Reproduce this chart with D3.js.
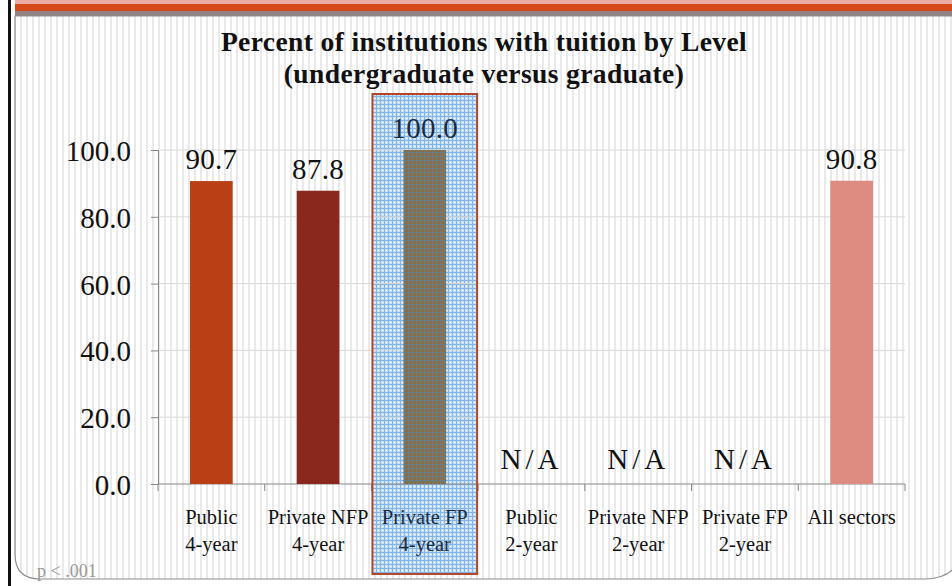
<!DOCTYPE html>
<html lang="en">
<head>
    <meta charset="UTF-8">
    <title>Percent of institutions with tuition by Level</title>
    <script src="https://d3js.org/d3.v7.min.js"></script>
    <style>
        body {margin: 0; background: #fff}
        text {font-family: 'Liberation Serif', 'DejaVu Serif', serif}
    </style>
</head>
<body>
<script>
    const width  = 952;
    const height = 586;

    // chart data
    const categories = [
        ["Public", "4-year"], ["Private NFP", "4-year"], ["Private FP", "4-year"],
        ["Public", "2-year"], ["Private NFP", "2-year"], ["Private FP", "2-year"],
        ["All sectors", ""]
    ];
    const values     = [90.7, 87.8, 100.0, null, null, null, 90.8];
    const barColors  = ["#bb3f14", "#8a281d", "#8c7043", "#999", "#999", "#999", "#de8b82"];
    const yTicks     = [0, 20, 40, 60, 80, 100];
    const highlight  = 2;

    const x = d3.scaleBand()
            .domain(d3.range(categories.length))
            .range([158, 905]);

    const y = d3.scaleLinear()
            .domain([0, 100])
            .range([484, 150]);

    const svg = d3.select("body")
            .append("svg")
            .attr("width", width)
            .attr("height", height);

    const defs = svg.append("defs");

    // striped slide background
    const stripes = defs.append("pattern")
            .attr("id", "stripes")
            .attr("patternUnits", "userSpaceOnUse")
            .attr("width", 6).attr("height", 6);
    stripes.append("rect").attr("width", 6).attr("height", 6).attr("fill", "#fff");
    stripes.append("rect").attr("x", 2).attr("width", 2).attr("height", 6).attr("fill", "#e9e9e9");

    // blue checked highlight (background)
    const check = defs.append("pattern")
            .attr("id", "check")
            .attr("patternUnits", "userSpaceOnUse")
            .attr("width", 4).attr("height", 4);
    check.append("rect").attr("width", 4).attr("height", 4).attr("fill", "#c9e0f5");
    check.append("rect").attr("width", 4).attr("height", 1).attr("fill", "#82b5e3");
    check.append("rect").attr("width", 1).attr("height", 4).attr("fill", "#82b5e3");
    check.append("rect").attr("x", 2).attr("y", 2).attr("width", 1).attr("height", 1).attr("fill", "#fff");

    // blue grid laid over the highlighted bar
    const grid = defs.append("pattern")
            .attr("id", "grid")
            .attr("patternUnits", "userSpaceOnUse")
            .attr("width", 4).attr("height", 4);
    grid.append("rect").attr("width", 4).attr("height", 1).attr("fill", "#4a86c5").attr("fill-opacity", 0.5);
    grid.append("rect").attr("width", 1).attr("height", 4).attr("fill", "#4a86c5").attr("fill-opacity", 0.5);

    // slide frame
    svg.append("path")
            .attr("d", "M15,16 L15,554 Q15,579 40,579 L925,579 Q950,579 960,560 L960,16 Z")
            .attr("fill", "url(#stripes)")
            .attr("stroke", "#8c8c8c")
            .attr("stroke-width", 1.2);
    svg.append("rect").attr("x", 8).attr("y", 0).attr("width", 3).attr("height", height).attr("fill", "#111");
    svg.append("rect").attr("x", 15).attr("y", 0).attr("width", width).attr("height", 4).attr("fill", "#e8aca1");
    svg.append("rect").attr("x", 15).attr("y", 4).attr("width", width).attr("height", 7).attr("fill", "#d44917");
    svg.append("rect").attr("x", 15).attr("y", 11).attr("width", width).attr("height", 5).attr("fill", "#918485");

    // title
    const title = svg.append("text")
            .attr("text-anchor", "middle")
            .style("font-weight", "bold").style("font-size", "27.5px")
            .style("letter-spacing", "0.4px")
            .attr("fill", "#111");
    title.append("tspan").attr("x", 484).attr("y", 51).text("Percent of institutions with tuition by Level");
    title.append("tspan").attr("x", 484).attr("y", 83).text("(undergraduate versus graduate)");

    // highlight box background
    svg.append("rect")
            .attr("x", x(highlight) + 1)
            .attr("y", 94)
            .attr("width", x.bandwidth() - 2)
            .attr("height", 480)
            .attr("fill", "url(#check)");

    // gridlines
    svg.append("g")
            .selectAll("line")
            .data(yTicks.filter(d => d > 0))
            .join("line")
            .attr("x1", 158).attr("x2", 905)
            .attr("y1", d => y(d)).attr("y2", d => y(d))
            .attr("stroke", "#d9d9d9");

    // y axis
    const yAxis = svg.append("g")
            .attr("transform", "translate(158,0)")
            .call(d3.axisLeft(y).tickValues(yTicks).tickFormat(d3.format(".1f")).tickSize(7).tickPadding(20));
    yAxis.select(".domain").attr("stroke", "#868686");
    yAxis.selectAll(".tick line").attr("stroke", "#868686");
    yAxis.selectAll(".tick text")
            .attr("fill", "#111")
            .style("font-size", "29px")
            .style("font-family", "'Liberation Serif', serif")
            .attr("dy", "0.36em");

    // x axis with ticks on category boundaries
    const xg = svg.append("g");
    xg.append("line")
            .attr("x1", 158).attr("x2", 905)
            .attr("y1", y(0)).attr("y2", y(0))
            .attr("stroke", "#868686");
    xg.selectAll("line.tk")
            .data(d3.range(categories.length + 1))
            .join("line")
            .attr("class", "tk")
            .attr("x1", d => 158 + d * x.bandwidth()).attr("x2", d => 158 + d * x.bandwidth())
            .attr("y1", y(0)).attr("y2", y(0) + 7)
            .attr("stroke", "#868686");

    // bars
    const barW = x.bandwidth() * 0.4;
    const bars = values.map((v, i) => ({v, i})).filter(d => d.v !== null);
    svg.append("g")
            .selectAll("rect")
            .data(bars)
            .join("rect")
            .attr("x", d => x(d.i) + (x.bandwidth() - barW) / 2)
            .attr("width", barW)
            .attr("y", d => y(d.v))
            .attr("height", d => y(0) - y(d.v))
            .attr("fill", d => barColors[d.i]);
    svg.append("g")
            .selectAll("rect")
            .data(bars.filter(d => d.i === highlight))
            .join("rect")
            .attr("x", d => x(d.i) + (x.bandwidth() - barW) / 2)
            .attr("width", barW)
            .attr("y", d => y(d.v))
            .attr("height", d => y(0) - y(d.v))
            .attr("fill", "url(#grid)");

    // value labels
    svg.append("g")
            .selectAll("text")
            .data(values.map((v, i) => ({v, i})))
            .join("text")
            .attr("x", d => x(d.i) + x.bandwidth() / 2)
            .attr("y", d => d.v === null ? 469 : y(d.v) - 12)
            .attr("text-anchor", "middle")
            .style("font-size", "29px")
            .style("letter-spacing", d => d.v === null ? "4px" : "0.3px")
            .attr("fill", d => d.i === highlight ? "#1d2b3c" : "#111")
            .text(d => d.v === null ? "N/A" : d3.format(".1f")(d.v));

    // category labels
    const cat = svg.append("g")
            .selectAll("text")
            .data(categories)
            .join("text")
            .attr("text-anchor", "middle")
            .style("font-size", "20.5px")
            .attr("fill", (d, i) => i === highlight ? "#1d2b3c" : "#111");
    cat.append("tspan")
            .attr("x", (d, i) => x(i) + x.bandwidth() / 2)
            .attr("y", 524)
            .text(d => d[0]);
    cat.append("tspan")
            .attr("x", (d, i) => x(i) + x.bandwidth() / 2)
            .attr("y", 551)
            .text(d => d[1]);

    // highlight box border
    svg.append("rect")
            .attr("x", x(highlight) + 1)
            .attr("y", 94)
            .attr("width", x.bandwidth() - 2)
            .attr("height", 480)
            .attr("fill", "none")
            .attr("stroke", "#b3462b")
            .attr("stroke-width", 2);

    // footnote
    svg.append("text")
            .attr("x", 37).attr("y", 577)
            .style("font-size", "18px")
            .attr("fill", "#999")
            .text("p < .001");
</script>
</body>
</html>
